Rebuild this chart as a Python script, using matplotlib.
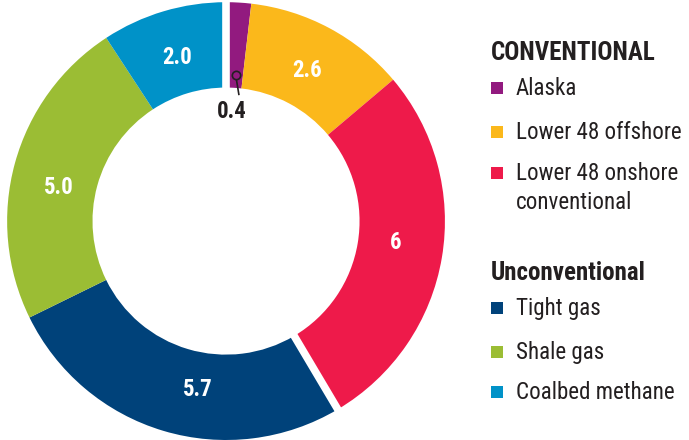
import numpy as np
import matplotlib
matplotlib.use("Agg")
import matplotlib.pyplot as plt
from matplotlib.patches import Rectangle
import warnings
warnings.filterwarnings("ignore")

# data (Tcf), clockwise from 12 o'clock
categories = ["Alaska", "Lower 48 offshore", "Lower 48 onshore\nconventional",
              "Tight gas", "Shale gas", "Coalbed methane"]
values = [0.4, 2.6, 6, 5.7, 5.0, 2.0]
value_labels = ["0.4", "2.6", "6", "5.7", "5.0", "2.0"]
groups = ["CONVENTIONAL", "CONVENTIONAL", "CONVENTIONAL",
          "Unconventional", "Unconventional", "Unconventional"]
colors = ["#921A7F", "#FBB81B", "#EE1A4A", "#00427A", "#9BBD34", "#0092C8"]
# small angular nudges (deg) of the value labels away from wedge centres
label_shift = [0, 0, 2.5, 7, 4, 0]

fam = ["Roboto Condensed", "Archivo Narrow", "Barlow Semi Condensed", "DejaVu Sans"]
plt.rcParams["font.family"] = fam

fig = plt.figure(figsize=(6.89, 4.4), dpi=100)
ax = fig.add_axes([0.0102, 0.0, 0.6357, 0.995])
ax.set_aspect("equal")

width = 0.39
wedges, _ = ax.pie(values, colors=colors, startangle=90, counterclock=False,
                   radius=1.0, wedgeprops=dict(width=width, edgecolor="none"))
ax.set_xlim(-1, 1)
ax.set_ylim(-1, 1)
ax.axis("off")

# white gaps between the two groups
for i in range(len(values)):
    if groups[i] != groups[i - 1]:
        ang = np.deg2rad(wedges[i].theta2)
        ax.plot([0.55 * np.cos(ang), 1.05 * np.cos(ang)],
                [0.55 * np.sin(ang), 1.05 * np.sin(ang)],
                color="white", lw=5.5, solid_capstyle="butt", zorder=3)

# value labels
for i, w in enumerate(wedges):
    ang = np.deg2rad((w.theta1 + w.theta2) / 2 + label_shift[i])
    if values[i] < 1:
        r0, r1, rt = 0.67, 0.58, 0.50
        ax.plot([r0 * np.cos(ang) + 0.005, r1 * np.cos(ang) + 0.025],
                [r0 * np.sin(ang), r1 * np.sin(ang)], color="#231F20", lw=1.2, zorder=4)
        ax.plot(r0 * np.cos(ang) + 0.005, r0 * np.sin(ang), "o", ms=6,
                mfc=colors[i], mec="#231F20", mew=1.2, zorder=5)
        ax.text(rt * np.cos(ang) - 0.005, rt * np.sin(ang), value_labels[i],
                ha="center", va="center", fontsize=16.5, fontweight="bold",
                color="#231F20")
    else:
        r = 0.78
        ax.text(r * np.cos(ang), r * np.sin(ang), value_labels[i],
                ha="center", va="center", fontsize=16.5, fontweight="bold",
                color="white")

# legend drawn by hand
W, H = 689, 440
ypos = {"CONVENTIONAL": 53, "Unconventional": 273}
rows = [88, 132, 173, 308, 352, 392]
for g, y in ypos.items():
    fig.text(491 / W, 1 - y / H, g, ha="left", va="center", fontsize=18,
             fontweight="bold", color="#231F20")
for i, cat in enumerate(categories):
    y = rows[i]
    fig.add_artist(Rectangle((491 / W, 1 - (y + 6) / H), 12 / W, 12 / H,
                             transform=fig.transFigure, color=colors[i], lw=0))
    fig.text(516 / W, 1 - (y - 11) / H, cat, ha="left", va="top", fontsize=16.6,
             color="#231F20", linespacing=1.32)

fig.savefig("out.png", dpi=100)
